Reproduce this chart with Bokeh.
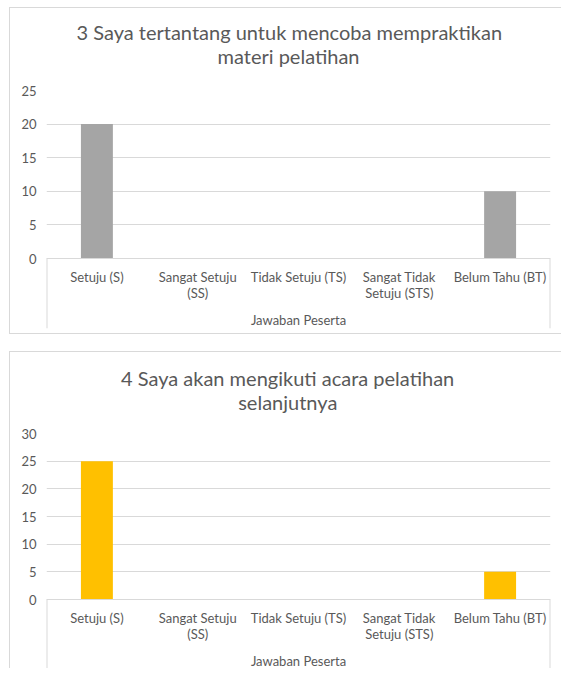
from bokeh.plotting import figure
from bokeh.models import FactorRange, Range1d, FixedTicker, Title
from bokeh.layouts import column
from bokeh.embed import file_html
from bokeh.resources import INLINE

# ---- data ----
categories = ["Setuju (S)", "Sangat Setuju\n(SS)", "Tidak Setuju (TS)",
              "Sangat Tidak\nSetuju (STS)", "Belum Tahu (BT)"]
values_q3 = [20, 0, 0, 0, 10]
values_q4 = [25, 0, 0, 0, 5]
title_q3 = ["3 Saya tertantang untuk mencoba mempraktikan", "materi pelatihan"]
title_q4 = ["4 Saya akan mengikuti acara pelatihan", "selanjutnya"]
ticks_q3 = [0, 5, 10, 15, 20, 25]
ticks_q4 = [0, 5, 10, 15, 20, 25, 30]
axis_title = "Jawaban Peserta"

FONT = "Lato"
TXT = "#595959"
GRID = "#d9d9d9"
TFS = "20px"
LFS = "13px"


def make_title(text, offset, standoff=0):
    return Title(text=text, align="left", offset=offset, standoff=standoff,
                 text_font=FONT, text_font_size=TFS, text_font_style="normal",
                 text_color=TXT)


def make_chart(title_lines, title_offsets, spacer, values, ticks, color, height,
               frame_top, zero_y, frame_bottom, borders):
    top_val = ticks[-1]
    px_per_unit = (zero_y - frame_top) / top_val
    y_start = -(frame_bottom - zero_y) / px_per_unit
    styles = {}
    for b in borders:
        styles["border-" + b] = "1px solid #d9d9d9"
    p = figure(width=552, height=height, output_backend="svg", toolbar_location=None,
               x_range=FactorRange(*categories, range_padding=0),
               y_range=Range1d(y_start, top_val),
               min_border_left=36, min_border_right=12,
               min_border_top=frame_top, min_border_bottom=height - frame_bottom,
               background_fill_color="white", border_fill_color="white",
               outline_line_color=None, styles=styles)

    # spacer between plot and title, then second line, then first line
    p.add_layout(make_title(" ", 0, standoff=spacer), "above")
    p.add_layout(make_title(title_lines[1], title_offsets[1]), "above")
    p.add_layout(make_title(title_lines[0], title_offsets[0], standoff=-4), "above")

    p.vbar(x=categories, top=values, width=0.317, color=color, line_color=None)

    # category box sides
    p.segment(x0=[(categories[0], -0.5), (categories[-1], 0.5)], y0=[0, 0],
              x1=[(categories[0], -0.5), (categories[-1], 0.5)], y1=[y_start, y_start],
              line_color=GRID, line_width=2)

    p.xgrid.visible = False
    p.ygrid.ticker = FixedTicker(ticks=ticks)
    p.ygrid.grid_line_color = GRID
    p.ygrid.grid_line_width = 1

    ya = p.yaxis[0]
    ya.ticker = FixedTicker(ticks=ticks)
    ya.axis_line_color = None
    ya.major_tick_line_color = None
    ya.minor_tick_line_color = None
    ya.major_tick_out = 0
    ya.major_tick_in = 0
    ya.minor_tick_out = 0
    ya.major_label_standoff = 10
    ya.major_label_text_font = FONT
    ya.major_label_text_font_size = LFS
    ya.major_label_text_color = TXT

    xa = p.xaxis[0]
    xa.fixed_location = 0
    xa.axis_line_color = GRID
    xa.major_tick_line_color = None
    xa.minor_tick_line_color = None
    xa.major_tick_out = 0
    xa.major_tick_in = 0
    xa.minor_tick_out = 0
    xa.major_label_standoff = 10
    xa.major_label_text_font = FONT
    xa.major_label_text_font_size = LFS
    xa.major_label_text_color = TXT
    xa.major_label_text_line_height = 1.05
    xa.axis_label = axis_title
    xa.axis_label_text_font = FONT
    xa.axis_label_text_font_size = LFS
    xa.axis_label_text_font_style = "normal"
    xa.axis_label_text_color = TXT
    xa.axis_label_standoff = 8
    return p


p1 = make_chart(title_q3, [30, 171], -3, values_q3, ticks_q3, "#a5a5a5",
                327, 82, 250, 320, ["left", "top", "bottom"])
p2 = make_chart(title_q4, [74.5, 191.7], -6, values_q4, ticks_q4, "#ffc000",
                317, 81, 247, 317, ["left", "top"])

layout = column(p1, p2, spacing=17, margin=(7, 0, 0, 9))
open("out.html", "w").write(file_html(layout, INLINE))
